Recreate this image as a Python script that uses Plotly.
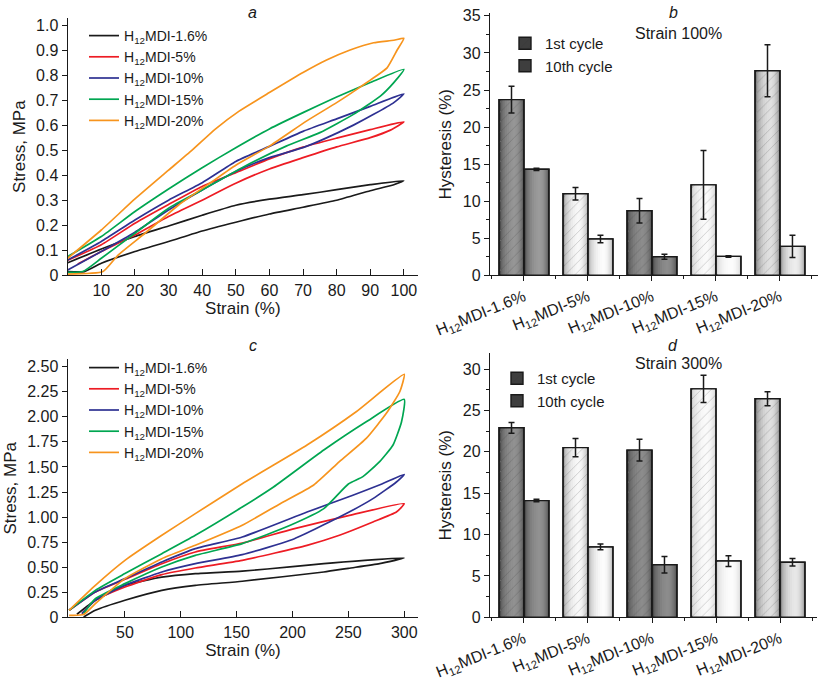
import math
import plotly.graph_objects as go

# ---------------- DATA ----------------
sample_names = ["H<sub>12</sub>MDI-1.6%", "H<sub>12</sub>MDI-5%", "H<sub>12</sub>MDI-10%",
                "H<sub>12</sub>MDI-15%", "H<sub>12</sub>MDI-20%"]

# Panel a: cyclic loading to 100 % strain (loading branch, unloading branch)
a16_load_x = [0, 10, 20, 30, 40, 50, 60, 70, 80, 90, 100]
a16_load_y = [0.05, 0.105, 0.155, 0.197, 0.240, 0.280, 0.304, 0.322, 0.342, 0.362, 0.378]
a16_unl_x = [100, 97, 90, 80, 70, 60, 50, 40, 30, 20, 10, 5, 0]
a16_unl_y = [0.378, 0.362, 0.338, 0.300, 0.272, 0.245, 0.212, 0.177, 0.135, 0.095, 0.048, 0.015, 0.015]

a5_load_x = [0, 10, 20, 30, 40, 50, 60, 70, 80, 90, 100]
a5_load_y = [0.06, 0.122, 0.208, 0.283, 0.355, 0.41, 0.465, 0.512, 0.548, 0.582, 0.613]
a5_unl_x = [100, 96, 90, 80, 70, 60, 50, 40, 30, 20, 10, 3]
a5_unl_y = [0.613, 0.58, 0.55, 0.513, 0.47, 0.425, 0.368, 0.300, 0.235, 0.161, 0.095, 0.045]

a10_load_x = [0, 10, 20, 30, 40, 50, 60, 70, 80, 90, 100]
a10_load_y = [0.061, 0.135, 0.221, 0.30, 0.37, 0.455, 0.515, 0.575, 0.625, 0.675, 0.725]
a10_unl_x = [100, 97, 91, 85, 76, 70, 60, 50, 40, 30, 20, 10, 0]
a10_unl_y = [0.725, 0.69, 0.643, 0.60, 0.543, 0.51, 0.47, 0.415, 0.341, 0.261, 0.172, 0.095, 0.021]

a15_load_x = [0, 10, 20, 30, 40, 50, 60, 70, 80, 90, 100]
a15_load_y = [0.075, 0.155, 0.255, 0.345, 0.43, 0.51, 0.585, 0.65, 0.712, 0.77, 0.823]
a15_unl_x = [100, 97, 93, 85, 75, 65, 52, 40, 30, 20, 10, 4.5, 0]
a15_unl_y = [0.823, 0.77, 0.716, 0.643, 0.57, 0.516, 0.431, 0.341, 0.268, 0.168, 0.068, 0.015, 0.012]

a20_load_x = [0, 10, 20, 30, 37, 44, 51, 60, 70, 77, 84, 91, 97, 100]
a20_load_y = [0.068, 0.181, 0.305, 0.42, 0.5, 0.585, 0.656, 0.73, 0.81, 0.86, 0.90, 0.929, 0.939, 0.947]
a20_unl_x = [100, 98, 95, 90, 86, 80, 71, 60, 50, 43, 33, 23, 15, 10.5, 0]
a20_unl_y = [0.947, 0.9, 0.829, 0.78, 0.743, 0.69, 0.616, 0.516, 0.44, 0.375, 0.281, 0.168, 0.081, 0.015, 0.005]

# Panel c: cyclic loading to 300 % strain
c16_load_x = [7, 23.5, 50, 83, 113, 155, 200, 228, 300]
c16_load_y = [0.03, 0.17, 0.32, 0.40, 0.435, 0.46, 0.505, 0.535, 0.592]
c16_unl_x = [300, 278, 250, 228, 155, 113, 83, 50, 23.5, 13]
c16_unl_y = [0.592, 0.535, 0.489, 0.452, 0.36, 0.319, 0.269, 0.17, 0.07, 0.003]

c5_load_x = [0, 23.5, 50, 83, 113, 155, 200, 251, 300]
c5_load_y = [0.07, 0.253, 0.379, 0.535, 0.652, 0.741, 0.88, 1.017, 1.134]
c5_unl_x = [300, 293, 272, 242, 213, 155, 113, 83, 50, 23.5, 11.5]
c5_unl_y = [1.134, 1.05, 0.951, 0.818, 0.718, 0.568, 0.492, 0.426, 0.302, 0.17, 0.037]

c10_load_x = [0, 23.5, 50, 83, 113, 155, 213, 254, 280, 300]
c10_load_y = [0.07, 0.253, 0.386, 0.552, 0.685, 0.801, 1.05, 1.217, 1.33, 1.426]
c10_unl_x = [300, 293, 272, 242, 198, 155, 113, 83, 50, 23.5, 11.5]
c10_unl_y = [1.426, 1.35, 1.184, 1.0, 0.768, 0.625, 0.535, 0.452, 0.319, 0.17, 0.037]

c15_load_x = [0, 23.5, 50, 83, 113, 155, 183, 228, 266, 300]
c15_load_y = [0.07, 0.269, 0.436, 0.635, 0.818, 1.1, 1.3, 1.669, 1.951, 2.174]
c15_unl_x = [300, 297.6, 290, 278, 263, 250, 228, 198, 155, 113, 83, 50, 23.5, 13]
c15_unl_y = [2.174, 1.951, 1.719, 1.553, 1.403, 1.33, 1.084, 0.918, 0.735, 0.618, 0.502, 0.336, 0.186, 0.037]

c20_load_x = [0, 23.5, 50, 83, 113, 155, 213, 257, 300]
c20_load_y = [0.07, 0.319, 0.568, 0.818, 1.034, 1.333, 1.719, 2.051, 2.424]
c20_unl_x = [300, 296, 284, 266, 242, 219, 189, 155, 113, 83, 50, 23.5, 13, 0]
c20_unl_y = [2.424, 2.25, 2.035, 1.785, 1.553, 1.32, 1.134, 0.918, 0.718, 0.585, 0.386, 0.136, 0.027, 0.02]

# Panels b, d: hysteresis (%)
b_first = [23.7, 11.0, 8.7, 12.2, 27.6]
b_first_err = [1.8, 0.85, 1.65, 4.65, 3.5]
b_tenth = [14.3, 4.9, 2.5, 2.55, 3.9]
b_tenth_err = [0.15, 0.5, 0.35, 0.1, 1.5]

d_first = [22.9, 20.5, 20.2, 27.6, 26.4]
d_first_err = [0.65, 1.1, 1.3, 1.65, 0.85]
d_tenth = [14.1, 8.5, 6.35, 6.8, 6.65]
d_tenth_err = [0.15, 0.35, 1.0, 0.65, 0.45]

a_yticks = [0, 0.1, 0.2, 0.3, 0.4, 0.5, 0.6, 0.7, 0.8, 0.9, 1.0]
a_yticktext = ["0", "0.1", "0.2", "0.3", "0.4", "0.5", "0.6", "0.7", "0.8", "0.9", "1.0"]
a_xticks = [10, 20, 30, 40, 50, 60, 70, 80, 90, 100]
c_yticks = [0, 0.25, 0.5, 0.75, 1.0, 1.25, 1.5, 1.75, 2.0, 2.25, 2.5]
c_yticktext = ["0", "0.25", "0.50", "0.75", "1.00", "1.25", "1.50", "1.75", "2.00", "2.25", "2.50"]
c_xticks = [50, 100, 150, 200, 250, 300]

# ---------------- STYLE ----------------
FONT = "Liberation Sans, Arial, sans-serif"
line_colors = ["#1a1a1a", "#ed1c24", "#2e3192", "#00a651", "#f7941d"]
W, H = 826, 681

# grey shading (edge, centre) of each cylinder-like bar
shade_b_first = [(62, 150), (150, 248), (65, 140), (195, 250), (110, 225)]
shade_b_tenth = [(62, 155), (160, 252), (60, 140), (205, 252), (130, 238)]
shade_d_first = [(62, 145), (150, 248), (65, 140), (200, 250), (110, 225)]
shade_d_tenth = [(62, 145), (160, 252), (60, 140), (205, 252), (120, 232)]

fig = go.Figure()

a_sets = [(a16_load_x, a16_load_y, a16_unl_x, a16_unl_y), (a5_load_x, a5_load_y, a5_unl_x, a5_unl_y),
          (a10_load_x, a10_load_y, a10_unl_x, a10_unl_y), (a15_load_x, a15_load_y, a15_unl_x, a15_unl_y),
          (a20_load_x, a20_load_y, a20_unl_x, a20_unl_y)]
c_sets = [(c16_load_x, c16_load_y, c16_unl_x, c16_unl_y), (c5_load_x, c5_load_y, c5_unl_x, c5_unl_y),
          (c10_load_x, c10_load_y, c10_unl_x, c10_unl_y), (c15_load_x, c15_load_y, c15_unl_x, c15_unl_y),
          (c20_load_x, c20_load_y, c20_unl_x, c20_unl_y)]

for sets, xa, ya, lg in [(a_sets, "x", "y", "legend"), (c_sets, "x3", "y3", "legend3")]:
    for name, col, (lx, ly, ux, uy) in zip(sample_names, line_colors, sets):
        fig.add_trace(go.Scatter(
            x=lx + ux[1:], y=ly + uy[1:], mode="lines", name=name,
            line=dict(color=col, width=1.7, shape="spline", smoothing=0.5),
            xaxis=xa, yaxis=ya, legend=lg, hoverinfo="skip"))

BW = 0.39
fracs = [1.0, 0.9, 0.78, 0.64, 0.5, 0.36, 0.22, 0.1]


def grey(v):
    v = int(round(max(0, min(255, v))))
    return f"rgb({v},{v},{v})"


def add_bars(vals, errs, shades, base_off, name, hatched, xa, ya, lg):
    pos = list(range(len(vals)))
    for k, f in enumerate(fracs):
        cols = [grey(e + (c - e) * math.sqrt(max(0.0, 1 - f * f))) for (e, c) in shades]
        off = base_off + BW * (1 - f) / 2 + 0.12 * BW * (1 - f)
        if k == 0:
            off = base_off
        marker = dict(color=cols, line=dict(width=0))
        if k == 0:
            marker["line"] = dict(color="#1a1a1a", width=1.4)
            if hatched:
                marker["pattern"] = dict(shape="/", fgcolor="rgba(40,40,40,0.5)", size=7,
                                         solidity=0.12, fillmode="overlay")
        fig.add_trace(go.Bar(
            x=pos, y=vals, offset=off, width=BW * f, marker=marker, name=name,
            showlegend=(k == 0), legend=lg, xaxis=xa, yaxis=ya, hoverinfo="skip"))
    top_marker = dict(color="rgba(0,0,0,0)", line=dict(color="#1a1a1a", width=1.4))
    if hatched:
        top_marker["pattern"] = dict(shape="/", fgcolor="rgba(40,40,40,0.45)", size=7,
                                     solidity=0.12, fillmode="overlay")
    fig.add_trace(go.Bar(
        x=pos, y=vals, offset=base_off, width=BW, marker=top_marker, showlegend=False,
        error_y=dict(type="data", array=errs, color="#1a1a1a", thickness=1.5, width=3),
        xaxis=xa, yaxis=ya, hoverinfo="skip"))


add_bars(b_first, b_first_err, shade_b_first, -BW, "1st cycle", True, "x2", "y2", "legend2")
add_bars(b_tenth, b_tenth_err, shade_b_tenth, 0.0, "10th cycle", False, "x2", "y2", "legend2")
add_bars(d_first, d_first_err, shade_d_first, -BW, "1st cycle", True, "x4", "y4", "legend4")
add_bars(d_tenth, d_tenth_err, shade_d_tenth, 0.0, "10th cycle", False, "x4", "y4", "legend4")


def px_x(p):
    return p / W


def px_y(p):
    return 1 - p / H


axis_common = dict(showline=True, linecolor="#1a1a1a", linewidth=1.3, showgrid=False, zeroline=False,
                   automargin=False, tickcolor="#1a1a1a",
                   tickfont=dict(size=16, family=FONT, color="#1a1a1a"))
title_font = dict(size=17, family=FONT, color="#1a1a1a")
leg_font = dict(size=14, family=FONT, color="#1a1a1a")

fig.update_layout(
    template="none",
    width=W, height=H, margin=dict(l=0, r=0, t=0, b=0, pad=0), autosize=False,
    paper_bgcolor="white", plot_bgcolor="white", barmode="overlay",
    font=dict(family=FONT, color="#1a1a1a"),
    xaxis=dict(domain=[px_x(67.7), px_x(418)], range=[0, 104.2], anchor="y",
               tickvals=a_xticks, ticks="inside", ticklen=6,
               title=dict(text="Strain (%)", font=title_font, standoff=4), **axis_common),
    yaxis=dict(domain=[px_y(275.3), px_y(18)], range=[0, 1.028], anchor="x",
               tickvals=a_yticks, ticktext=a_yticktext, ticks="outside", ticklen=5,
               title=dict(text="Stress, MPa", font=title_font, standoff=6), **axis_common),
    xaxis2=dict(domain=[px_x(490), px_x(818)], range=[-0.531, 4.594], anchor="y2",
                tickvals=list(range(5)), ticktext=sample_names, tickangle=-22,
                ticks="outside", ticklen=5,
                minor=dict(tick0=0.5, dtick=1, ticks="outside", ticklen=3, tickcolor="#1a1a1a"),
                **axis_common),
    yaxis2=dict(domain=[px_y(275.3), px_y(13.3)], range=[0, 35.35], anchor="x2",
                dtick=5, ticks="outside", ticklen=5,
                minor=dict(dtick=2.5, ticks="outside", ticklen=3, tickcolor="#1a1a1a"),
                title=dict(text="Hysteresis (%)", font=title_font, standoff=6), **axis_common),
    xaxis3=dict(domain=[px_x(67.7), px_x(418.3)], range=[-1.25, 312.6], anchor="y3",
                tickvals=c_xticks, ticks="inside", ticklen=6,
                title=dict(text="Strain (%)", font=title_font, standoff=4), **axis_common),
    yaxis3=dict(domain=[px_y(617.3), px_y(359.3)], range=[0, 2.574], anchor="x3",
                tickvals=c_yticks, ticktext=c_yticktext, ticks="outside", ticklen=5,
                title=dict(text="Stress, MPa", font=title_font, standoff=6), **axis_common),
    xaxis4=dict(domain=[px_x(490), px_x(817)], range=[-0.531, 4.578], anchor="y4",
                tickvals=list(range(5)), ticktext=sample_names, tickangle=-22,
                ticks="outside", ticklen=5,
                minor=dict(tick0=0.5, dtick=1, ticks="outside", ticklen=3, tickcolor="#1a1a1a"),
                **axis_common),
    yaxis4=dict(domain=[px_y(617.3), px_y(353.3)], range=[0, 31.9], anchor="x4",
                dtick=5, ticks="outside", ticklen=5,
                minor=dict(dtick=2.5, ticks="outside", ticklen=3, tickcolor="#1a1a1a"),
                title=dict(text="Hysteresis (%)", font=title_font, standoff=6), **axis_common),
    legend=dict(x=px_x(84), y=px_y(20), xanchor="left", yanchor="top", bgcolor="rgba(0,0,0,0)",
                font=leg_font, tracegroupgap=0, borderwidth=0),
    legend2=dict(x=px_x(505), y=px_y(27), xanchor="left", yanchor="top", bgcolor="rgba(0,0,0,0)",
                 font=dict(size=15, family=FONT, color="#1a1a1a"), borderwidth=0),
    legend3=dict(x=px_x(84), y=px_y(352), xanchor="left", yanchor="top", bgcolor="rgba(0,0,0,0)",
                 font=leg_font, tracegroupgap=0, borderwidth=0),
    legend4=dict(x=px_x(497), y=px_y(362), xanchor="left", yanchor="top", bgcolor="rgba(0,0,0,0)",
                 font=dict(size=15, family=FONT, color="#1a1a1a"), borderwidth=0),
)

ann = [("<i>a</i>", 253, 12), ("<i>b</i>", 673, 12), ("Strain 100%", 678, 34),
       ("<i>c</i>", 253, 346), ("<i>d</i>", 673, 345), ("Strain 300%", 678, 363)]
for text, xp, yp in ann:
    fig.add_annotation(text=text, x=px_x(xp), y=px_y(yp), xref="paper", yref="paper",
                       xanchor="center", yanchor="middle", showarrow=False,
                       font=dict(size=16, family=FONT, color="#1a1a1a"))

fig.write_html("out.html")
